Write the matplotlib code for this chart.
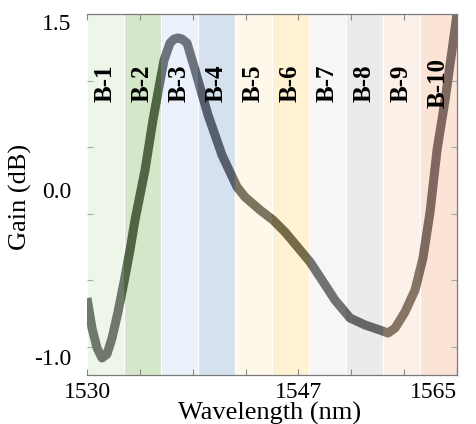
"""Gain spectrum over the ten wavelength bands B-1 ... B-10."""
import matplotlib
matplotlib.use("Agg")
import matplotlib.pyplot as plt
from matplotlib.transforms import blended_transform_factory

plt.rcParams["font.family"] = ["Liberation Serif", "DejaVu Serif"]

# gain curve
wavelength = [1530.00, 1530.47, 1530.95, 1531.42, 1531.89, 1532.37, 1532.93,
              1533.50, 1534.07, 1534.54, 1535.49, 1536.24, 1536.81, 1537.29,
              1537.85, 1538.23, 1538.61, 1538.99, 1539.46, 1540.22, 1541.45,
              1542.77, 1544.19, 1544.95, 1546.37, 1547.60, 1548.73, 1550.15,
              1551.10, 1552.04, 1553.46, 1554.88, 1556.30, 1557.72, 1558.47,
              1559.14, 1560.08, 1561.03, 1561.78, 1562.45, 1563.11, 1563.87,
              1564.53, 1565.00]
gain = [-0.560, -0.784, -0.933, -1.007, -0.978, -0.858, -0.664,
        -0.440, -0.201, 0.022, 0.396, 0.769, 1.015, 1.216,
        1.343, 1.373, 1.381, 1.373, 1.343, 1.142, 0.806,
        0.507, 0.269, 0.194, 0.097, 0.022, -0.067, -0.201,
        -0.291, -0.403, -0.575, -0.709, -0.761, -0.799, -0.821,
        -0.784, -0.664, -0.500, -0.261, 0.082, 0.545, 0.918,
        1.291, 1.560]

band_names = ["B-1", "B-2", "B-3", "B-4", "B-5", "B-6", "B-7", "B-8", "B-9", "B-10"]
band_start = [1530.0, 1533.5, 1537.0, 1540.5, 1544.0, 1547.5, 1551.0, 1554.5, 1558.0, 1561.5]
band_width = 3.5
band_fill = ["#eef6ea", "#d5e7c9", "#ebf2fb", "#d6e1f0", "#fef8ea",
             "#fff2d2", "#f6f6f6", "#ebebeb", "#fcf1e8", "#fbe3d6"]
band_line = ["#6f786b", "#506543", "#6a737e", "#575e6d", "#7b755f",
             "#766b47", "#717171", "#666666", "#867565", "#7e6860"]

# axis labels as printed on the original
xtick_pos = [1530, 1550, 1565]
xtick_lbl = ["1530", "1547", "1565"]
xminor_pos = [1535, 1540, 1545, 1555, 1560]
ytick_pos = [1.5, 0.246, -1.0]
ytick_lbl = ["1.5", "0.0", "-1.0"]
yminor_pos = [1.060, 0.567, 0.067, -0.425, -0.925]

fig = plt.figure(figsize=(4.77, 4.24), dpi=100)
ax = fig.add_axes([0.1824, 0.1156, 0.7757, 0.8514])
ax.set_xlim(1530, 1565)
ax.set_ylim(-1.134, 1.560)

lab_tr = blended_transform_factory(ax.transData, ax.transAxes)
for name, x0, fc, lc in zip(band_names, band_start, band_fill, band_line):
    span = ax.axvspan(x0, x0 + band_width, facecolor=fc, edgecolor="white",
                      linewidth=0.8, zorder=0)
    ln, = ax.plot(wavelength, gain, color=lc, lw=6.5, solid_capstyle="butt",
                  solid_joinstyle="round", zorder=2)
    ln.set_clip_path(span)
    ax.text(x0 + band_width / 2, 0.809, name, transform=lab_tr, rotation=90,
            ha="center", va="center", fontsize=18, fontweight="bold", zorder=3)

for side in ["top", "right", "bottom"]:
    ax.spines[side].set_color("#7a7a7a")
    ax.spines[side].set_linewidth(0.9)
ax.spines["left"].set_visible(False)

ax.set_xticks(xtick_pos)
ax.set_xticklabels(xtick_lbl)
ax.set_xticks(xminor_pos, minor=True)
ax.set_yticks(ytick_pos)
ax.set_yticklabels(ytick_lbl)
ax.set_yticks(yminor_pos, minor=True)
ax.xaxis.get_ticklabels()[-1].set_horizontalalignment("right")

ax.tick_params(axis="x", which="both", direction="in", top=True, color="#8a8a8a",
               length=4, width=0.8, labelsize=17, pad=5)
ax.tick_params(axis="y", which="minor", direction="in", right=True, color="#aaaaaa",
               length=4, width=0.8)
ax.tick_params(axis="y", which="major", length=0, labelsize=17, pad=11)

fig.text(0.566, 0.026, "Wavelength (nm)", ha="center", va="center", fontsize=19)
fig.text(0.042, 0.535, "Gain (dB)", ha="center", va="center", rotation=90, fontsize=19)

fig.savefig("out.png", dpi=100)
